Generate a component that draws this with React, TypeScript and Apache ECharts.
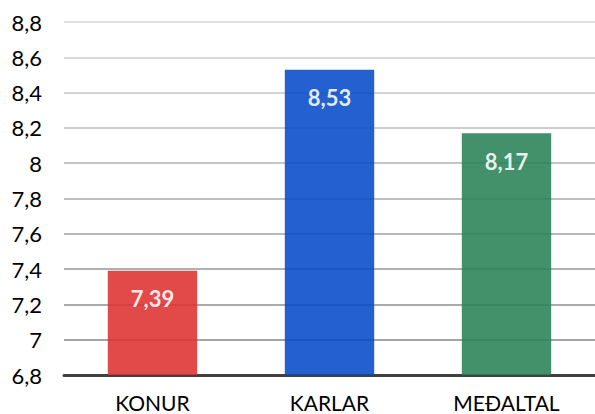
import React, { useEffect, useRef } from "react";
import * as echarts from "echarts";

const categories = ["KONUR", "KARLAR", "MEÐALTAL"];
const values = [7.39, 8.53, 8.17];
const barColors = ["rgb(222,49,49)", "rgb(7,74,202)", "rgb(41,130,86)"];
const gridColors = [
  "#9e9e9e", "#a4a4a4", "#aaaaaa", "#b0b0b0", "#b8b8b8", "#bfbfbf",
  "#c6c6c6", "#cdcdcd", "#d4d4d4", "#dadada", "#e0e0e0",
];

const fmt = (v: number) => String(Math.round(v * 100) / 100).replace(".", ",");

export default function App() {
  const ref = useRef<HTMLDivElement>(null);
  useEffect(() => {
    if (!ref.current) return;
    const chart = echarts.init(ref.current, null, { renderer: "svg" });
    chart.setOption({
      animation: false,
      backgroundColor: "#ffffff",
      textStyle: { fontFamily: "Lato" },
      grid: { left: 64, right: -8, top: 22, bottom: 39, containLabel: false },
      xAxis: {
        type: "category",
        data: categories,
        axisTick: { show: false },
        axisLine: { show: true, lineStyle: { color: "#404040", width: 3 } },
        axisLabel: { color: "#000000", fontSize: 21, margin: 17, fontFamily: "Lato" },
      },
      yAxis: {
        type: "value",
        min: 6.8,
        max: 8.8,
        interval: 0.2,
        axisLine: { show: false },
        axisTick: { show: false },
        axisLabel: {
          color: "#000000",
          fontSize: 22,
          margin: 22,
          fontFamily: "Lato",
          formatter: (v: number) => fmt(v),
        },
        splitLine: { show: true, lineStyle: { color: gridColors, width: 2 } },
      },
      series: [
        {
          type: "bar",
          barWidth: "50.5%",
          data: values.map((v, i) => ({
            value: v,
            itemStyle: { color: barColors[i], opacity: 0.88 },
          })),
          label: {
            show: true,
            position: "insideTop",
            distance: 17,
            color: "#ffffff",
            fontWeight: "bold",
            fontSize: 22,
            fontFamily: "Lato",
            formatter: (p: any) => fmt(p.value),
          },
        },
      ],
    });
    return () => chart.dispose();
  }, []);
  return (
    <div
      ref={ref}
      style={{ position: "fixed", left: 0, top: 0, width: 595, height: 414 }}
    />
  );
}
